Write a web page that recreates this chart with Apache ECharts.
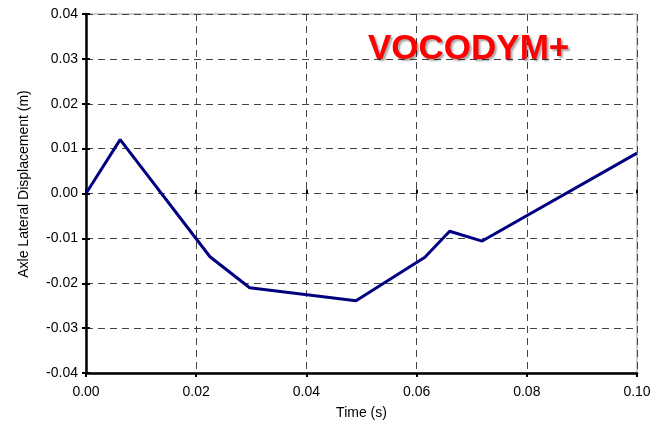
<!DOCTYPE html>
<html><head><meta charset="utf-8">
<script src="https://cdn.jsdelivr.net/npm/echarts@6/dist/echarts.min.js"></script>
<style>html,body{margin:0;padding:0;background:#fff}#c{width:655px;height:438px}</style>
</head><body><div id="c"></div>
<script>
const timeValues = [0, 0.0062, 0.0225, 0.0297, 0.049, 0.0615, 0.066, 0.0719, 0.1];
const displacementValues = [0, 0.0120, -0.0141, -0.0210, -0.0239, -0.0142, -0.0084, -0.0106, 0.0090];
const titleText = 'VOCODYM+';
const xName = 'Time (s)';
const yName = 'Axle Lateral Displacement (m)';

const chart = echarts.init(document.getElementById('c'));
const font = 'Liberation Sans, Arial, sans-serif';
const fmt = v => v.toFixed(2);
const dash = {color:'#444', width:1, type:[7,5]};
chart.setOption({
  animation:false,
  title:{text:titleText, left:363, top:27, textStyle:{fontFamily:font, fontSize:35, fontWeight:'bold', color:'#ff0000',
    textShadowColor:'rgba(0,0,0,0.35)', textShadowOffsetX:2, textShadowOffsetY:2, textShadowBlur:2}},
  graphic:[{type:'text', x:24, y:184, rotation:Math.PI/2,
    style:{text:yName, fontFamily:font, fontSize:14, fill:'#000', textAlign:'center', textVerticalAlign:'middle'}}],
  grid:{left:86, top:14, right:18, bottom:65, show:true, borderColor:'#999', borderWidth:1},
  xAxis:[{type:'value', min:0, max:0.1, interval:0.02, name:xName, nameLocation:'middle', nameGap:33,
    nameTextStyle:{fontFamily:font, fontSize:14, color:'#000'},
    axisLine:{show:true, onZero:false, lineStyle:{color:'#000', width:2.5}},
    axisTick:{show:true, length:4, lineStyle:{color:'#000', width:2}},
    axisLabel:{formatter:fmt, fontFamily:font, fontSize:14, color:'#000', margin:12},
    splitLine:{show:true, lineStyle:dash}},
   {type:'value', min:0, max:0.1, interval:0.02, position:'bottom', axisLine:{show:false},
    axisTick:{show:true, inside:true, length:4, lineStyle:{color:'#000', width:2}}, axisLabel:{show:false}, splitLine:{show:false}}],
  yAxis:[{type:'value', min:-0.04, max:0.04, interval:0.01,
    axisLine:{show:true, onZero:false, lineStyle:{color:'#000', width:2.5}},
    axisTick:{show:true, length:4, lineStyle:{color:'#000', width:2}},
    axisLabel:{formatter:fmt, fontFamily:font, fontSize:14, color:'#000', margin:8},
    splitLine:{show:true, lineStyle:dash}},
   {type:'value', min:-0.04, max:0.04, interval:0.01, position:'left', axisLine:{show:false},
    axisTick:{show:true, inside:true, length:4, lineStyle:{color:'#000', width:2}}, axisLabel:{show:false}, splitLine:{show:false}}],
  series:[{type:'line', data:timeValues.map((t,i)=>[t, displacementValues[i]]), showSymbol:false, symbol:'none',
    lineStyle:{color:'#000080', width:3}, itemStyle:{color:'#000080'}}]
});
</script></body></html>
